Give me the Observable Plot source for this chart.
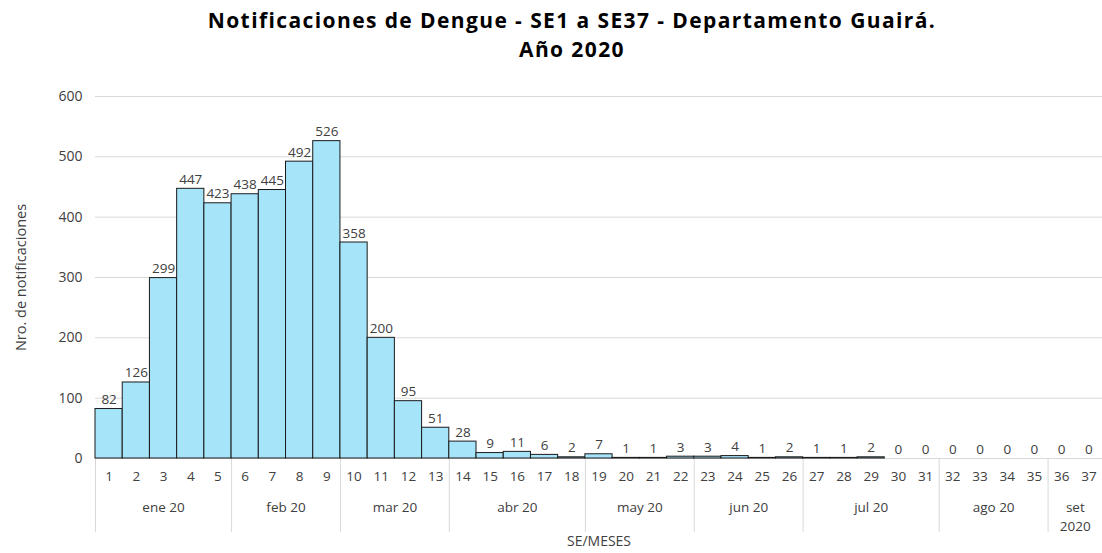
<!DOCTYPE html>
<html>
<head>
<meta charset="utf-8">
<script src="https://cdn.jsdelivr.net/npm/d3@7"></script>
<script src="https://cdn.jsdelivr.net/npm/@observablehq/plot@0.6"></script>
<style>
  html, body { margin: 0; padding: 0; background: #fff; }
  #title { height: 66px; box-sizing: border-box; padding-top: 6px; padding-left: 42px; text-align: center;
           font-family: "Open Sans", "Noto Sans", sans-serif; font-weight: 700; font-size: 21px; letter-spacing: 1.4px; line-height: 29px; color: #000; }
</style>
</head>
<body>
<div id="title">Notificaciones de Dengue - SE1 a SE37 - Departamento Guairá.<br>Año 2020</div>
<div id="chart"></div>
<script>
const weeks = d3.range(1, 38);
const counts = [82,126,299,447,423,438,445,492,526,358,200,95,51,28,9,11,6,2,7,1,1,3,3,4,1,2,1,1,2,0,0,0,0,0,0,0,0];
const monthLabels = ["ene 20","feb 20","mar 20","abr 20","may 20","jun 20","jul 20","ago 20","set\n2020"];
const monthStart = [1,6,10,14,19,23,27,32,36];
const monthEnd   = [5,9,13,18,22,26,31,35,37];
const yTicks = [0,100,200,300,400,500,600];

const data = weeks.map((w, i) => ({se: w, n: counts[i]}));
const months = monthLabels.map((m, i) => ({label: m, start: monthStart[i], end: monthEnd[i]}));
const boundaries = monthStart.map(s => s - 0.5);

const chart = Plot.plot({
  width: 1102,
  height: 487,
  marginLeft: 95,
  marginRight: 0,
  marginTop: 30,
  marginBottom: 95,
  style: {fontFamily: "'Open Sans', 'Noto Sans', sans-serif", fontSize: "13.5px", color: "#404040", background: "#fff"},
  x: {type: "linear", domain: [0.5, 37.5]},
  y: {domain: [0, 600]},
  marks: [
    Plot.gridY(yTicks, {stroke: "#d9d9d9", strokeOpacity: 1}),
    Plot.axisY({ticks: yTicks, tickSize: 0, tickPadding: 13, label: null, fontSize: 14}),
    Plot.axisY({ticks: [], label: "Nro. de notificaciones", labelAnchor: "center", labelArrow: "none", labelOffset: 80, fontSize: 14.5}),
    Plot.axisX({ticks: weeks, tickSize: 0, tickPadding: 13, tickFormat: d => String(d), label: null}),
    Plot.axisX({ticks: [], label: "SE/MESES", labelAnchor: "center", labelArrow: "none", labelOffset: 87, fontSize: 14}),
    Plot.axisX({ticks: boundaries, tickSize: 74, stroke: "#d9d9d9", tickFormat: () => "", label: null}),
    Plot.rectY(data, {x1: d => d.se - 0.5, x2: d => d.se + 0.5, y: "n", fill: "#a6e4fa", stroke: "#1a1a1a", strokeWidth: 1}),
    Plot.text(data, {x: "se", y: "n", text: d => String(d.n), lineAnchor: "bottom", dy: -5, fill: "#404040"}),
    Plot.text(months, {x: d => (d.start + d.end) / 2, text: "label", frameAnchor: "bottom", lineAnchor: "top", dy: 41, lineHeight: 1.35, fill: "#404040"})
  ]
});
document.getElementById("chart").append(chart);
</script>
</body>
</html>
